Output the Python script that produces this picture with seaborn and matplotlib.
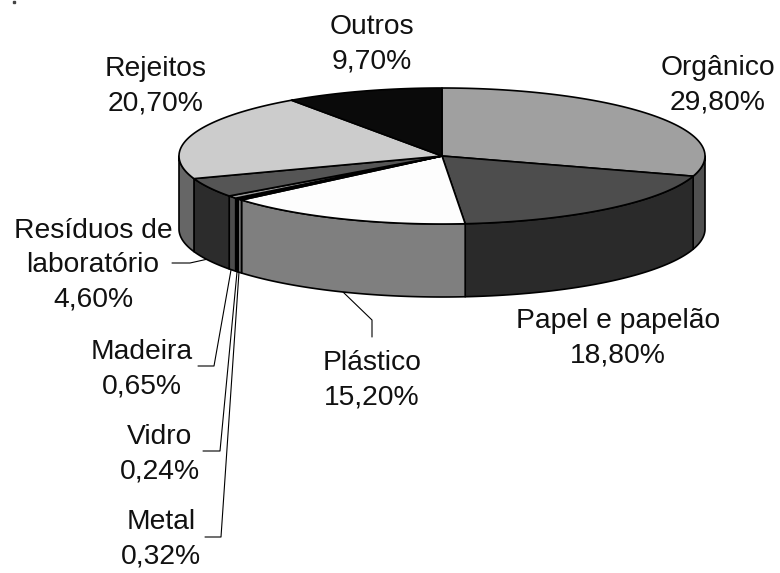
import numpy as np
import pandas as pd
import matplotlib
matplotlib.use('Agg')
import matplotlib.pyplot as plt
import seaborn as sns

# ===== data =====
categories = ['Orgânico', 'Papel e papelão', 'Plástico', 'Metal', 'Vidro', 'Madeira',
              'Resíduos de\nlaboratório', 'Rejeitos', 'Outros']
shares = [29.80, 18.80, 15.20, 0.32, 0.24, 0.65, 4.60, 20.70, 9.70]
share_labels = ['29,80%', '18,80%', '15,20%', '0,32%', '0,24%', '0,65%', '4,60%', '20,70%', '9,70%']

top_colors = ['#A0A0A0', '#4D4D4D', '#FDFDFD', '#E0E0E0', '#0A0A0A', '#9A9A9A', '#555555', '#CCCCCC', '#0A0A0A']
side_colors = ['#505050', '#2A2A2A', '#7F7F7F', '#707070', '#050505', '#4D4D4D', '#2C2C2C', '#666666', '#050505']

# ===== layout (pixels of the 780x573 figure) =====
CX, CY, RX, RY, DEPTH = 442, 156, 263, 68, 73
label_xy = [(718, 85), (618, 338), (372, 380), (161, 539), (159.5, 454), (142, 369),
            (93, 265), (156, 86), (372, 44)]
leaders = [None, None,
           [(343, 292), (372, 320), (372, 337)],
           [(205, 537), (221, 537), (239, 272)],
           [(203, 451), (220, 451), (237, 272)],
           [(198, 366), (214, 366), (231, 270)],
           [(172, 263), (190, 263), (208, 259)],
           None, None]

sns.set_theme(style='white')
plt.rcParams['font.family'] = ['Liberation Sans', 'DejaVu Sans']

df = pd.DataFrame({'cat': categories, 'share': shares, 'label': share_labels,
                   'top': top_colors, 'side': side_colors})
df['stop'] = 90 - df['share'].cumsum() / df['share'].sum() * 360
df['start'] = df['stop'].shift(1).fillna(90)

fig = plt.figure(figsize=(7.8, 5.73), dpi=100)
ax = fig.add_axes([0, 0, 1, 1])
ax.set_xlim(0, 780)
ax.set_ylim(573, 0)
ax.axis('off')


def rim(a, b, dy=0):
    t = np.radians(np.linspace(a, b, 80))
    return CX + RX * np.cos(t), CY + dy - RY * np.sin(t)


# 侧面：只画前半圈 (0 到 -180 度)
for _, r in df.iterrows():
    a, b = min(r['start'], 0), max(r['stop'], -180)
    if a <= b:
        continue
    x1, y1 = rim(a, b)
    x2, y2 = rim(b, a, DEPTH)
    ax.fill(np.r_[x1, x2], np.r_[y1, y2], facecolor=r['side'], edgecolor='black', lw=1.2,
            joinstyle='round', zorder=2)

# 顶面
for _, r in df.iterrows():
    x, y = rim(r['start'], r['stop'])
    ax.fill(np.r_[CX, x], np.r_[CY, y], facecolor=r['top'], edgecolor='black', lw=1.2,
            joinstyle='round', zorder=3)

# 引线
for pts in leaders:
    if pts:
        xs, ys = zip(*pts)
        ax.plot(xs, ys, color='black', lw=0.8, zorder=1)

# 标签
for (x, y), c, lab in zip(label_xy, df['cat'], df['label']):
    ax.text(x, y, f'{c}\n{lab}', ha='center', va='center', fontsize=20.3, color='#111111',
            linespacing=1.42)

# 左上角小污点
ax.plot([14], [2], marker='s', ms=1.5, color='#444444')

fig.savefig('out.png', dpi=100)
